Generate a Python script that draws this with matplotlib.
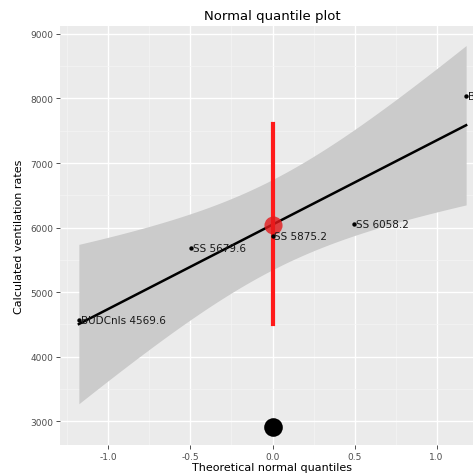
import matplotlib.pyplot as plt
import numpy as np
from matplotlib.ticker import MultipleLocator

# data
labels = ['BUDCnls 4569.6', 'SS 5679.6', 'SS 5875.2', 'SS 6058.2', 'B']
rates = np.array([4569.6, 5679.6, 5875.2, 6058.2, 8040.0])
quantiles = np.array([-1.18, -0.497, 0.0, 0.497, 1.18])

red_segment = [4500, 7600]
big_point = 2907

# ordinary least squares fit with 95% band
n = len(rates)
slope, intercept = np.polyfit(quantiles, rates, 1)
resid = rates - (slope * quantiles + intercept)
s = np.sqrt(np.sum(resid ** 2) / (n - 2))
sxx = np.sum((quantiles - quantiles.mean()) ** 2)
t_crit = 3.182
xs = np.linspace(quantiles.min(), quantiles.max(), 80)
fit = slope * xs + intercept
half = t_crit * s * np.sqrt(1 / n + (xs - quantiles.mean()) ** 2 / sxx)

fig = plt.figure(figsize=(4.73, 4.77), dpi=100)
ax = fig.add_axes([60 / 473, 31 / 477, 425 / 473, 419 / 477])
ax.set_facecolor('#EBEBEB')

ax.fill_between(xs, fit - half, fit + half, color='#CBCBCB', lw=0, zorder=2)
ax.plot(xs, fit, color='black', lw=1.8, zorder=3)

ax.plot([0, 0], red_segment, color='#FF1A1A', lw=3, zorder=4)
ax.scatter([0], [rates.mean()], s=170, color='#E41A1C', alpha=0.8,
           lw=0, zorder=5)
ax.scatter([0], [big_point], s=180, color='black', lw=0, zorder=5)

ax.scatter(quantiles, rates, s=10, color='black', lw=0, zorder=6)
for q, r, lab in zip(quantiles, rates, labels):
    ax.text(q + 0.01, r, lab, ha='left', va='center', fontsize=7.5,
            color='#1A1A1A', zorder=7, clip_on=False)

ax.set_xlim(-1.295, 1.295)
ax.set_ylim(2628, 9124)
ax.xaxis.set_major_locator(MultipleLocator(0.5))
ax.xaxis.set_minor_locator(MultipleLocator(0.25))
ax.yaxis.set_major_locator(MultipleLocator(1000))
ax.yaxis.set_minor_locator(MultipleLocator(500))
ax.grid(which='major', color='white', lw=1.0, zorder=1)
ax.grid(which='minor', color='#F4F4F4', lw=0.5, zorder=1)
ax.set_axisbelow(True)
for sp in ax.spines.values():
    sp.set_visible(False)
ax.tick_params(which='major', length=3, color='#333333', labelsize=6.5,
               labelcolor='#4D4D4D', width=0.6, pad=2)
ax.tick_params(which='minor', length=0)
ax.set_xticklabels([f'{v:.1f}' for v in ax.get_xticks()])

ax.set_title('Normal quantile plot', fontsize=9.5, pad=5)
ax.set_xlabel('Theoretical normal quantiles', fontsize=8, labelpad=1)
ax.set_ylabel('Calculated ventilation rates', fontsize=8, labelpad=4)

fig.savefig('out.png', dpi=100, facecolor='white')
